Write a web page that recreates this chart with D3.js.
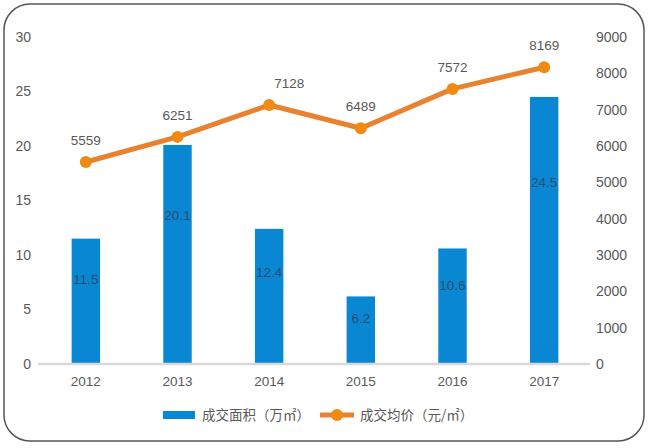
<!DOCTYPE html>
<html>
<head>
<meta charset="utf-8">
<script src="https://cdn.jsdelivr.net/npm/d3@7"></script>
<style>
  html, body { margin: 0; padding: 0; background: #fff; }
  svg { display: block; font-family: "Liberation Sans", Arial, "Noto Sans CJK SC", sans-serif; }
</style>
</head>
<body>
<svg id="chart" width="648" height="448"></svg>
<script>
// 数据
const years = ["2012", "2013", "2014", "2015", "2016", "2017"];
const area = [11.5, 20.1, 12.4, 6.2, 10.6, 24.5];      // 成交面积（万㎡）
const price = [5559, 6251, 7128, 6489, 7572, 8169];    // 成交均价（元/㎡）
const leftTicks = [0, 5, 10, 15, 20, 25, 30];
const rightTicks = [0, 1000, 2000, 3000, 4000, 5000, 6000, 7000, 8000, 9000];

const svg = d3.select("#chart");
const blue = "#0a87d3", orange = "#e8822e", grey = "#595959";

// 外框
svg.append("rect")
  .attr("x", 4).attr("y", 4)
  .attr("width", 640).attr("height", 437)
  .attr("rx", 26).attr("ry", 26)
  .attr("fill", "#fff")
  .attr("stroke", "#555").attr("stroke-width", 1.5);

// 比例尺
const x = d3.scaleBand().domain(years).range([40, 590]).paddingInner(0.69).paddingOuter(0.345);
const yL = d3.scaleLinear().domain([0, 30]).range([364, 37]);
const yR = d3.scaleLinear().domain([0, 9000]).range([364, 37]);

// 坐标轴
const axisL = svg.append("g").attr("transform", "translate(31,0)")
  .call(d3.axisLeft(yL).tickValues(leftTicks).tickSize(0).tickPadding(0));
const axisR = svg.append("g").attr("transform", "translate(596,0)")
  .call(d3.axisRight(yR).tickValues(rightTicks).tickFormat(d3.format("d")).tickSize(0).tickPadding(0));
const axisB = svg.append("g").attr("transform", "translate(0,364)")
  .call(d3.axisBottom(x).tickSize(0).tickPadding(12));
[axisL, axisR, axisB].forEach(g => {
  g.select(".domain").remove();
  g.selectAll("text").attr("fill", grey).style("font-size", "14px")
    .style("font-family", "'Liberation Sans', Arial, sans-serif");
});
axisB.selectAll("text").style("font-size", "13.5px");

// 柱
svg.append("g").selectAll("rect").data(area).join("rect")
  .attr("x", (d, i) => x(years[i]))
  .attr("y", d => yL(d))
  .attr("width", x.bandwidth())
  .attr("height", d => yL(0) - yL(d))
  .attr("fill", blue);

// 基线
svg.append("line")
  .attr("x1", 38).attr("x2", 590)
  .attr("y1", yL(0)).attr("y2", yL(0))
  .attr("stroke", "#d9d9d9").attr("stroke-width", 2.5);

// 柱标签
svg.append("g").selectAll("text").data(area).join("text")
  .attr("x", (d, i) => x(years[i]) + x.bandwidth() / 2)
  .attr("y", d => yL(d) + (yL(0) - yL(d)) * 0.32 + 5)
  .attr("text-anchor", "middle")
  .attr("fill", "#2b4c6e")
  .style("font-size", "13.5px")
  .text(d => d.toFixed(1));

// 折线
const line = d3.line()
  .x((d, i) => x(years[i]) + x.bandwidth() / 2)
  .y(d => yR(d));
svg.append("path")
  .datum(price)
  .attr("d", line)
  .attr("fill", "none")
  .attr("stroke", orange)
  .attr("stroke-width", 5)
  .attr("stroke-linejoin", "round");
svg.append("g").selectAll("circle").data(price).join("circle")
  .attr("cx", (d, i) => x(years[i]) + x.bandwidth() / 2)
  .attr("cy", d => yR(d))
  .attr("r", 6)
  .attr("fill", "#f08a12");
svg.append("g").selectAll("text").data(price).join("text")
  .attr("x", (d, i) => x(years[i]) + x.bandwidth() / 2 + (i === 2 ? 20 : 0))
  .attr("y", d => yR(d) - 17)
  .attr("text-anchor", "middle")
  .attr("fill", grey)
  .style("font-size", "13.5px")
  .text(d => d);

// 图例
const lg = svg.append("g").style("font-family", "'Noto Sans CJK SC', sans-serif").style("font-size", "13.5px");
lg.append("rect").attr("x", 163).attr("y", 411).attr("width", 32).attr("height", 8).attr("fill", blue);
lg.append("text").attr("x", 202).attr("y", 419.5).attr("fill", grey).text("成交面积（万㎡）");
lg.append("line").attr("x1", 320).attr("x2", 354).attr("y1", 415).attr("y2", 415)
  .attr("stroke", orange).attr("stroke-width", 5);
lg.append("circle").attr("cx", 337).attr("cy", 415).attr("r", 6).attr("fill", "#f08a12");
lg.append("text").attr("x", 360).attr("y", 419.5).attr("fill", grey).text("成交均价（元/㎡）");
</script>
</body>
</html>
